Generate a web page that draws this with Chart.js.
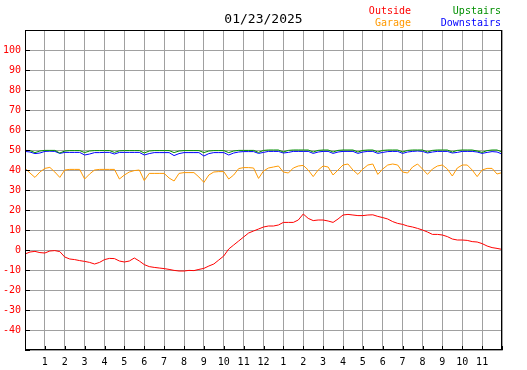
<!DOCTYPE html>
<html>
<head>
<meta charset="utf-8">
<title>01/23/2025</title>
<script src="https://cdn.jsdelivr.net/npm/chart.js@4/dist/chart.umd.min.js"></script>
<style>
  body { margin: 0; background: #fff; }
  #wrap { width: 527px; height: 370px; }
</style>
</head>
<body>
<div id="wrap"><canvas id="tempChart"></canvas></div>
<script>
const chartTitle = '01/23/2025';

// x axis: hours of the day, 12h clock, ends left blank
const hourLabels = ['', '1', '2', '3', '4', '5', '6', '7', '8', '9', '10', '11', '12',
  '1', '2', '3', '4', '5', '6', '7', '8', '9', '10', '11', ''];
const tempTicks = [-50, -40, -30, -20, -10, 0, 10, 20, 30, 40, 50, 60, 70, 80, 90, 100, 110];

// one reading every 15 minutes, midnight to midnight
const sampleStep = 0.25;

const outside = [
  -2, -1, -0.7, -1.3, -1.5, -0.5, -0.3, -0.8, -3.5, -4.5, -4.8, -5.3,
  -5.7, -6.2, -7, -6.2, -4.8, -4.2, -4.3, -5.5, -6, -5.5, -4, -5.5,
  -7.3, -8.3, -8.7, -9, -9.3, -9.7, -10.2, -10.5, -10.5, -10.2, -10.3, -9.7,
  -9.2, -8, -7, -5, -3, 0.5, 2.5, 4.5, 6.5, 8.5, 9.5, 10.5,
  11.5, 12, 12, 12.5, 13.8, 13.8, 13.8, 15, 18, 15.8, 14.7, 15,
  15, 14.5, 13.8, 15.5, 17.5, 17.8, 17.5, 17.2, 17.2, 17.5, 17.6, 16.8,
  16.2, 15.5, 14.2, 13.3, 12.8, 12, 11.5, 10.8, 10, 9, 7.8, 7.8,
  7.5, 6.7, 5.5, 5, 5, 4.8, 4.2, 4, 3.2, 2, 1.2, 0.8,
  0.3
];

const garage = [
  40.8, 38.5, 36.3, 39, 40.8, 41.3, 39, 36.3, 40, 40.3, 40.3, 40.3,
  35.5, 38, 40, 40.3, 40.3, 40.3, 40.3, 35.5, 37.5, 39, 39.7, 40,
  34.7, 38.3, 38.3, 38.3, 38.3, 36, 34.5, 38.3, 38.7, 38.7, 38.7, 36.5,
  33.8, 37.5, 39, 39.2, 39.2, 35.5, 37.5, 40.7, 41.2, 41.2, 41, 35.8,
  39.5, 41, 41.5, 42, 39, 38.5, 41, 42, 42.3, 40, 36.7, 40,
  42, 41.5, 37.5, 40, 42.5, 43, 40, 37.8, 40.5, 42.5, 43, 37.8,
  40.5, 42.5, 43, 42.5, 39, 38.5, 41.5, 43, 40.5, 37.8, 40.5, 42,
  42.5, 40.5, 37, 41, 42.5, 42.5, 40, 36.7, 40, 40.8, 40.8, 38,
  38.7
];

const upstairs = [
  49.8, 49.7, 48.7, 49.5, 49.8, 49.8, 49.8, 48.5, 49.5, 49.7, 49.7, 49.7,
  48.7, 49.5, 49.7, 49.7, 49.7, 49.7, 48.8, 49.6, 49.7, 49.7, 49.7, 49.7,
  48.5, 49.5, 49.7, 49.7, 49.7, 49.7, 48.7, 49.5, 49.7, 49.7, 49.7, 49.7,
  48.7, 49.5, 49.7, 49.7, 49.7, 48.7, 49.5, 49.8, 49.8, 49.8, 49.8, 48.8,
  49.8, 50, 50, 50, 49, 49.8, 50, 50, 50, 50, 49, 49.8,
  50, 50, 49, 49.8, 50, 50, 50, 49, 49.8, 50, 50, 49,
  49.8, 50, 50, 50, 49, 49.8, 50, 50, 50, 49, 49.8, 50,
  50, 50, 49, 49.8, 50, 50, 50, 49.5, 48.8, 49.7, 50, 50,
  49
];

const downstairs = [
  49.3, 49, 48.2, 48.5, 49.3, 49.4, 49.3, 48.3, 48.8, 48.8, 48.8, 48.8,
  47.5, 48, 48.7, 48.7, 48.8, 48.8, 48, 48.8, 48.8, 48.8, 48.8, 48.8,
  47.5, 48.2, 48.7, 48.7, 48.7, 48.7, 47.2, 48.2, 48.7, 48.7, 48.7, 48.7,
  47, 48.2, 48.7, 48.7, 48.7, 47.5, 48.5, 49, 49.2, 49.2, 49.2, 48.3,
  48.8, 49.3, 49.3, 49.3, 48.5, 48.8, 49.3, 49.3, 49.3, 49.3, 48.3, 49,
  49.3, 49.3, 48.3, 49, 49.3, 49.3, 49.3, 48.3, 49, 49.3, 49.3, 48.3,
  48.8, 49.2, 49.3, 49.3, 48.3, 49, 49.3, 49.5, 49.3, 48.5, 49, 49.3,
  49.3, 49.3, 48.5, 48.8, 49.3, 49.3, 49.3, 49, 48.3, 48.8, 49.2, 49,
  48
];

const monoFont = 'DejaVu Sans Mono';

// turn a list of readings into {x: hour, y: temp} points
const toPoints = (values) => values.map((v, i) => ({ x: i * sampleStep, y: v }));

// black frame, grey drop shadow, small inward ticks, and the two-column text legend
const framePlugin = {
  id: 'frame',
  afterDatasetsDraw(chart) {
    const { ctx, chartArea: a, scales } = chart;
    ctx.save();
    ctx.lineWidth = 1;

    ctx.strokeStyle = '#a0a0a0';
    ctx.beginPath();
    ctx.moveTo(a.right + 0.5, a.top + 2);
    ctx.lineTo(a.right + 0.5, a.bottom + 0.5);
    ctx.lineTo(a.left + 2, a.bottom + 0.5);
    ctx.stroke();

    ctx.strokeStyle = '#000';
    ctx.strokeRect(a.left + 0.5, a.top + 0.5, a.width - 1, a.height - 1);

    ctx.beginPath();
    scales.y.ticks.forEach(t => {
      const y = Math.round(scales.y.getPixelForValue(t.value)) + 0.5;
      ctx.moveTo(a.left, y);
      ctx.lineTo(a.left + 5, y);
    });
    scales.x.ticks.forEach(t => {
      const x = Math.round(scales.x.getPixelForValue(t.value)) + 0.5;
      ctx.moveTo(x, a.bottom);
      ctx.lineTo(x, a.bottom - 4);
    });
    ctx.stroke();
    ctx.restore();
  },
  afterDraw(chart) {
    const { ctx } = chart;
    ctx.save();
    ctx.font = '10px "' + monoFont + '"';
    ctx.textAlign = 'right';
    ctx.textBaseline = 'middle';
    chart.data.datasets.forEach((ds, i) => {
      const col = Math.floor(i / 2);
      const row = i % 2;
      ctx.fillStyle = ds.borderColor;
      ctx.fillText(ds.label, col ? 501 : 411, 11 + row * 12);
    });
    ctx.restore();
  }
};

const ctx = document.getElementById('tempChart');
new Chart(ctx, {
  type: 'line',
  data: {
    datasets: [
      { label: 'Outside', data: toPoints(outside), borderColor: '#ff0000' },
      { label: 'Garage', data: toPoints(garage), borderColor: '#ff9900' },
      { label: 'Upstairs', data: toPoints(upstairs), borderColor: '#008f00' },
      { label: 'Downstairs', data: toPoints(downstairs), borderColor: '#0000ff' }
    ]
  },
  options: {
    responsive: true,
    maintainAspectRatio: false,
    animation: false,
    events: [],
    elements: {
      point: { radius: 0 },
      line: { borderWidth: 1, tension: 0, fill: false }
    },
    layout: { padding: 0 },
    plugins: {
      legend: { display: false },
      tooltip: { enabled: false },
      title: {
        display: true,
        text: chartTitle,
        color: '#000',
        font: { family: monoFont, size: 13, weight: 'normal', lineHeight: 1.2 },
        padding: { top: 12, bottom: 2.4 }
      }
    },
    scales: {
      x: {
        type: 'linear',
        min: 0,
        max: 24,
        afterBuildTicks: scale => { scale.ticks = hourLabels.map((_, h) => ({ value: h })); },
        afterFit: scale => { scale.height = 20; },
        grid: { color: '#a0a0a0', drawTicks: false },
        border: { display: false },
        ticks: {
          autoSkip: false,
          maxRotation: 0,
          padding: 6,
          color: '#000',
          font: { family: monoFont, size: 10 },
          callback: (value, index) => hourLabels[index]
        }
      },
      y: {
        type: 'linear',
        position: 'left',
        min: -50,
        max: 110,
        afterBuildTicks: scale => { scale.ticks = tempTicks.map(v => ({ value: v })); },
        afterFit: scale => { scale.width = 25; },
        grid: { color: '#a0a0a0', drawTicks: false },
        border: { display: false },
        ticks: {
          padding: 4,
          color: '#ff0000',
          font: { family: monoFont, size: 10 },
          callback: (value, index) => (index === 0 || index === tempTicks.length - 1) ? '' : value
        }
      },
      // empty right-hand strip so the plot ends at the same place as the original
      edge: {
        type: 'linear',
        position: 'right',
        grid: { display: false },
        border: { display: false },
        ticks: { display: false },
        afterFit: scale => { scale.width = 25; }
      }
    }
  },
  plugins: [framePlugin]
});
</script>
</body>
</html>
